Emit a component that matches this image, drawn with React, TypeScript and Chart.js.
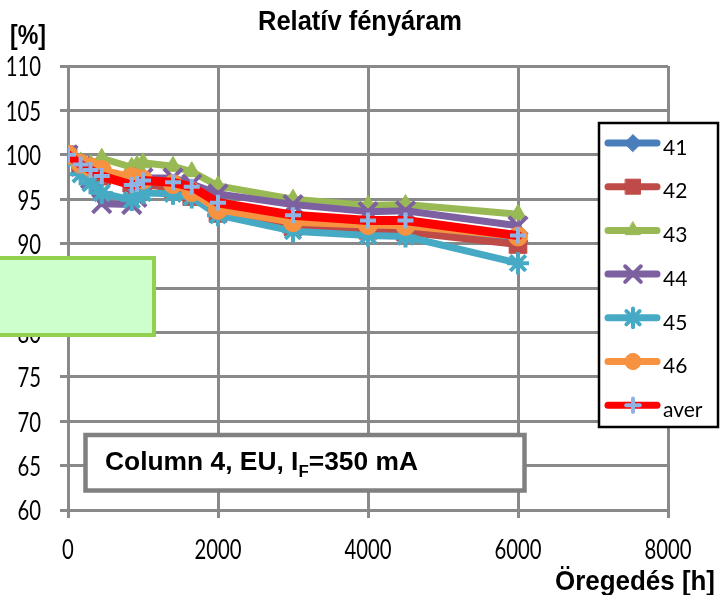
import React, { useEffect, useRef } from 'react';
import { Chart, registerables } from 'chart.js';
import { drawPoint } from 'chart.js/helpers';

Chart.register(...registerables);

const hours = [0, 168, 300, 450, 850, 920, 1000, 1400, 1650, 2000, 3000, 4000, 4500, 6000];
const s41 = [100, 98.9, 98.3, 97.9, 97.1, 96.9, 97.0, 96.5, 95.6, 93.7, 92.2, 91.8, 91.7, 90.3];
const s42 = [100, 98.7, 98.1, 97.6, 96.8, 96.6, 96.7, 96.2, 95.3, 93.4, 91.9, 91.5, 91.3, 89.9];
const s43 = [100, 99.2, 98.9, 99.6, 98.6, 98.8, 99.1, 98.7, 98.1, 96.5, 95.0, 94.3, 94.4, 93.3];
const s44 = [100, 98.7, 97.3, 94.5, 94.4, 95.2, 97.4, 97.4, 96.7, 95.6, 94.4, 93.6, 93.7, 92.0];
const s45 = [99.8, 97.8, 96.8, 95.7, 94.9, 95.4, 95.7, 95.6, 95.2, 93.2, 91.4, 90.9, 90.8, 87.8];
const s46 = [100, 99.0, 98.6, 98.3, 97.5, 97.3, 97.2, 96.7, 95.8, 93.8, 92.4, 92.1, 92.0, 90.8];
const aver = [100, 98.9, 98.3, 97.6, 96.6, 96.7, 97.1, 96.9, 96.4, 94.6, 93.2, 92.6, 92.6, 90.9];

const seriesNames = ['41', '42', '43', '44', '45', '46', 'aver'];
const titleText = 'Relatív fényáram';
const yAxisLabel = '[%]';
const xAxisLabel = 'Öregedés [h]';
const noteMain = 'Column 4, EU, I';
const noteSub = 'F';
const noteTail = '=350 mA';

const GRID = '#898989';

function drawText(ctx: CanvasRenderingContext2D, s: string, x: number, y: number, font: string, sx: number, align: string, baseline: CanvasTextBaseline) {
  ctx.save();
  ctx.font = font;
  ctx.textBaseline = baseline;
  ctx.textAlign = 'left';
  const w = ctx.measureText(s).width * sx;
  const x0 = align === 'right' ? x - w : align === 'center' ? x - w / 2 : x;
  ctx.translate(x0, y);
  ctx.scale(sx, 1);
  ctx.fillStyle = '#000';
  ctx.fillText(s, 0, 0);
  ctx.restore();
}

function fitScale(ctx: CanvasRenderingContext2D, s: string, font: string, target: number) {
  ctx.save();
  ctx.font = font;
  const w = ctx.measureText(s).width;
  ctx.restore();
  return target / w;
}

const overlayPlugin = {
  id: 'overlay',
  afterDraw(chart: any) {
    const ctx: CanvasRenderingContext2D = chart.ctx;
    const xs = chart.scales.x;
    const ys = chart.scales.y;
    const tickFont = '26px Lato';
    ys.ticks.forEach((t: any) => {
      drawText(ctx, String(t.value), 41, ys.getPixelForValue(t.value) + 2, tickFont, 0.78, 'right', 'middle');
    });
    xs.ticks.forEach((t: any) => {
      drawText(ctx, String(t.value), xs.getPixelForValue(t.value), 551, tickFont, 0.78, 'center', 'middle');
    });
    const tf = 'bold 27px "Liberation Sans"';
    drawText(ctx, titleText, 360, 30, tf, fitScale(ctx, titleText, tf, 204), 'center', 'alphabetic');
    const af = 'bold 27px "Liberation Sans"';
    drawText(ctx, yAxisLabel, 10, 44, af, fitScale(ctx, yAxisLabel, af, 36), 'left', 'alphabetic');
    drawText(ctx, xAxisLabel, 715, 590, af, fitScale(ctx, xAxisLabel, af, 160), 'right', 'alphabetic');

    // legend box
    ctx.save();
    ctx.fillStyle = '#fff';
    ctx.fillRect(599, 123, 119, 304);
    ctx.strokeStyle = '#000';
    ctx.lineWidth = 2.5;
    ctx.strokeRect(599, 123, 119, 304);
    ctx.restore();
    chart.data.datasets.forEach((ds: any, i: number) => {
      const y = 143 + i * 43.7;
      ctx.save();
      ctx.strokeStyle = ds.borderColor;
      ctx.lineWidth = 7;
      ctx.lineCap = 'round';
      ctx.beginPath();
      ctx.moveTo(608, y);
      ctx.lineTo(657, y);
      ctx.stroke();
      ctx.fillStyle = ds.pointBackgroundColor;
      ctx.strokeStyle = ds.pointBorderColor;
      ctx.lineWidth = ds.pointBorderWidth;
      drawPoint(ctx, { pointStyle: ds.pointStyle, rotation: 0, radius: ds.pointRadius * 0.85, borderWidth: ds.pointBorderWidth }, 633, y);
      ctx.restore();
      drawText(ctx, ds.label, 663, y + 5, '21px Lato', 1, 'left', 'middle');
    });

    // green box
    ctx.save();
    ctx.fillStyle = '#ccffcc';
    ctx.fillRect(-10, 258, 164, 77);
    ctx.strokeStyle = '#92d050';
    ctx.lineWidth = 4;
    ctx.strokeRect(-10, 258, 164, 77);
    ctx.restore();

    // note box
    ctx.save();
    ctx.fillStyle = '#fff';
    ctx.fillRect(85.5, 435, 439, 55.5);
    ctx.strokeStyle = '#808080';
    ctx.lineWidth = 4.5;
    ctx.strokeRect(85.5, 435, 439, 55.5);
    ctx.restore();
    const nf = 'bold 25px "Liberation Sans"';
    const sf = 'bold 16px "Liberation Sans"';
    ctx.save();
    ctx.font = nf;
    const w1 = ctx.measureText(noteMain).width;
    const w3 = ctx.measureText(noteTail).width;
    ctx.font = sf;
    const w2 = ctx.measureText(noteSub).width;
    ctx.restore();
    const sx = 313 / (w1 + w2 + w3);
    let cx = 105;
    drawText(ctx, noteMain, cx, 470, nf, sx, 'left', 'alphabetic');
    cx += w1 * sx;
    drawText(ctx, noteSub, cx, 477, sf, sx, 'left', 'alphabetic');
    cx += w2 * sx;
    drawText(ctx, noteTail, cx, 470, nf, sx, 'left', 'alphabetic');
  },
};

function mk(label: string, vals: number[], color: string, style: string, radius: number, idx: number, extra: any = {}) {
  return {
    label,
    data: hours.map((h, i) => ({ x: h, y: vals[i] })),
    borderColor: color,
    backgroundColor: color,
    borderWidth: 7,
    borderJoinStyle: 'round',
    borderCapStyle: 'round',
    pointStyle: style,
    pointRadius: radius,
    pointBackgroundColor: color,
    pointBorderColor: color,
    pointBorderWidth: 1,
    tension: 0,
    order: 7 - idx,
    ...extra,
  };
}

export default function App() {
  const ref = useRef<HTMLCanvasElement>(null);
  useEffect(() => {
    document.body.style.margin = '0';
    const chart = new Chart(ref.current!, {
      type: 'line',
      data: {
        datasets: [
          mk(seriesNames[0], s41, '#4a7ebb', 'rectRot', 10, 0),
          mk(seriesNames[1], s42, '#be4b48', 'rect', 12.5, 1),
          mk(seriesNames[2], s43, '#98b954', 'triangle', 10, 2),
          mk(seriesNames[3], s44, '#7d60a0', 'crossRot', 13, 3, { pointBorderWidth: 4 }),
          mk(seriesNames[4], s45, '#46aac5', 'star', 11, 4, { pointBorderWidth: 4 }),
          mk(seriesNames[5], s46, '#f69240', 'circle', 9.5, 5),
          mk(seriesNames[6], aver, '#ff0000', 'cross', 8, 6, { borderWidth: 9, pointBackgroundColor: '#8eb4e3', pointBorderColor: '#8eb4e3', pointBorderWidth: 4 }),
        ] as any,
      },
      options: {
        responsive: false,
        animation: false,
        layout: { padding: { left: 60, right: 52, top: 66, bottom: 77 } },
        plugins: { legend: { display: false }, title: { display: false }, tooltip: { enabled: false } },
        scales: {
          x: {
            type: 'linear',
            min: 0,
            max: 8000,
            ticks: { display: false, stepSize: 2000 },
            grid: { color: GRID, lineWidth: 3, tickLength: 8, drawTicks: true },
            border: { color: GRID, width: 3 },
            afterFit: (s: any) => { s.height = 8; },
          },
          y: {
            type: 'linear',
            min: 60,
            max: 110,
            ticks: { display: false, stepSize: 5 },
            grid: { color: GRID, lineWidth: 3, tickLength: 8, drawTicks: true },
            border: { color: GRID, width: 3 },
            afterFit: (s: any) => { s.width = 8; },
          },
        },
      },
      plugins: [overlayPlugin],
    });
    return () => chart.destroy();
  }, []);
  return <canvas ref={ref} width={720} height={595} style={{ display: 'block' }} />;
}
